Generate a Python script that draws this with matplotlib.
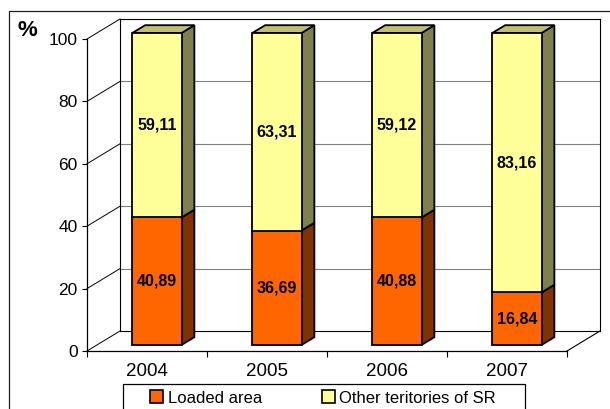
import numpy as np
import matplotlib
matplotlib.use("Agg")
import matplotlib.pyplot as plt
from matplotlib.patches import Polygon, Rectangle, Patch
from matplotlib.lines import Line2D
from matplotlib.transforms import IdentityTransform

plt.rcParams['font.family'] = ['Liberation Sans', 'DejaVu Sans']

# ---- data ----
years = ['2004', '2005', '2006', '2007']
loaded = [40.89, 36.69, 40.88, 16.84]
other = [59.11, 63.31, 59.12, 83.16]
series_names = ['Loaded area', 'Other teritories of SR']
y_ticks = [0, 20, 40, 60, 80, 100]

# ---- style ----
DX, DY = 33.0, 20.0          # full depth offset of the 3D box (pixels)
BAR_D0, BAR_D1 = 0.30, 0.69  # bar front / back depth fraction
BAR_W = 0.41
front_cols = ['#FF6600', '#FFFF99']
side_cols = ['#803300', '#80804D']
top_cols = ['#BF4D00', '#BFBF73']

W, H = 610, 409
fig = plt.figure(figsize=(W / 100, H / 100), dpi=100)
ax = fig.add_axes([87 / W, 58 / H, 480 / W, 312 / H])
ax.set_xlim(-0.5, len(years) - 0.5)
ax.set_ylim(0, 100)
ax.patch.set_visible(False)
for s in ['top', 'right']:
    ax.spines[s].set_visible(False)
for s in ['left', 'bottom']:
    ax.spines[s].set_linewidth(0.9)
    ax.spines[s].set_zorder(5)

ax.set_yticks(y_ticks)
ax.tick_params(axis='y', length=3.6, width=0.8, pad=3, labelsize=12.5)
ax.set_xticks(range(len(years)), years)
ax.set_xticks(np.arange(-0.5, len(years), 1.0), minor=True)
ax.tick_params(axis='x', which='major', length=0, pad=9, labelsize=13.5)
ax.tick_params(axis='x', which='minor', length=4.5, width=0.8)

ID = IdentityTransform()


def P(x, v, d):
    px, py = ax.transData.transform((x, v))
    return (px + d * DX, py + d * DY)


def line(p, q, color='black', lw=0.8, z=1):
    ax.add_line(Line2D([p[0], q[0]], [p[1], q[1]], color=color, lw=lw,
                       transform=ID, clip_on=False, zorder=z))


x0, x1 = -0.5, len(years) - 0.5
# back wall gridlines
for v in y_ticks:
    col = 'black' if v in (0, 100) else '#808080'
    line(P(x0, v, 1), P(x1, v, 1), color=col, lw=0.8)
    # left wall diagonals
    line(P(x0, v, 0), P(x0, v, 1), color='black', lw=0.7)
line(P(x0, 0, 1), P(x0, 100, 1), color='black', lw=0.8)
line(P(x1, 0, 1), P(x1, 100, 1), color='black', lw=0.8)
line(P(x1, 0, 0), P(x1, 0, 1), color='black', lw=0.8)

# bars
for i, yr in enumerate(years):
    bottoms = [0, loaded[i]]
    vals = [loaded[i], other[i]]
    xl, xr = i - BAR_W / 2, i + BAR_W / 2
    for k in range(2):
        b = bottoms[k]
        t = b + vals[k]
        front = [P(xl, b, BAR_D0), P(xr, b, BAR_D0), P(xr, t, BAR_D0), P(xl, t, BAR_D0)]
        side = [P(xr, b, BAR_D0), P(xr, b, BAR_D1), P(xr, t, BAR_D1), P(xr, t, BAR_D0)]
        top = [P(xl, t, BAR_D0), P(xr, t, BAR_D0), P(xr, t, BAR_D1), P(xl, t, BAR_D1)]
        for poly, col in ((side, side_cols[k]), (top, top_cols[k]), (front, front_cols[k])):
            ax.add_patch(Polygon(poly, closed=True, facecolor=col, edgecolor='black',
                                 lw=1.3, joinstyle='miter', transform=ID,
                                 clip_on=False, zorder=3))
        cx, cy = P(i, b + vals[k] / 2, BAR_D0)
        ax.text(cx, cy, f"{vals[k]:.2f}".replace('.', ','), transform=ID,
                ha='center', va='center', fontsize=11.5, fontweight='bold', zorder=6)

# % label
fig.text(18 / W, 1 - 31 / H, '%', fontsize=16, fontweight='bold', ha='left', va='center')

# outer frame
fig.add_artist(Rectangle((9, -20), 800, H - 11 + 20, transform=ID, fill=False,
                         edgecolor='#202020', lw=0.9))
# legend frame
fig.add_artist(Rectangle((123, -20), 402, H - 384 + 20, transform=ID, fill=False,
                         edgecolor='black', lw=0.9))
handles = [Patch(facecolor=front_cols[k], edgecolor='black', lw=1.2, label=series_names[k])
           for k in range(2)]
fig.legend(handles=handles, ncol=2, frameon=False, loc='center',
           bbox_to_anchor=(323 / W, 1 - 398 / H), fontsize=12,
           handlelength=0.8, handleheight=0.8, handletextpad=0.25,
           columnspacing=3.6, borderpad=0, borderaxespad=0)

fig.savefig('out.png', dpi=100)
